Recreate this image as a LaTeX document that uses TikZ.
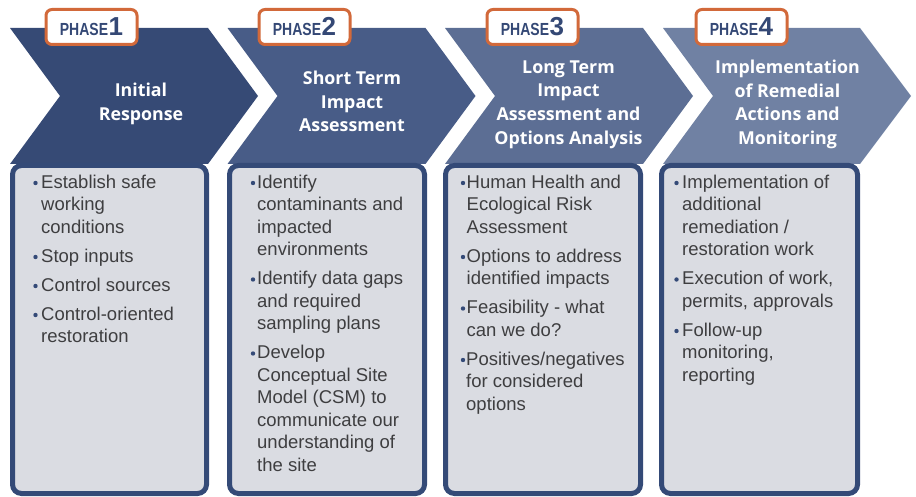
\documentclass[tikz,border=0pt]{standalone}
\usepackage{fontspec}
\usepackage{graphicx}
\setmainfont{Liberation Sans}
\newfontfamily\titlefont{Open Sans}
\definecolor{chevA}{RGB}{54,74,117}
\definecolor{chevB}{RGB}{72,92,135}
\definecolor{chevC}{RGB}{92,110,148}
\definecolor{chevD}{RGB}{112,129,163}
\definecolor{boxborder}{RGB}{52,74,119}
\definecolor{boxfill}{RGB}{218,220,226}
\definecolor{bodytext}{RGB}{62,62,64}
\definecolor{phaseorange}{RGB}{210,105,58}
\definecolor{phasetext}{RGB}{52,72,117}
\newcommand{\phaselabel}[1]{\scalebox{0.8}[1]{\fontsize{17.5}{17}\selectfont\bfseries PHASE}\kern0.5pt{\fontsize{26}{26}\selectfont\bfseries #1}}
\newcommand{\st}{\rule{0pt}{15pt}}
\tikzset{
  infobox/.style={draw=boxborder, fill=boxfill, line width=5pt, rounded corners=9pt},
  phasebox/.style={draw=phaseorange, fill=white, line width=3pt, rounded corners=6pt,
    minimum width=91pt, minimum height=35pt, inner sep=0pt, text=phasetext},
  titletext/.style={text=white, align=center, inner sep=0pt,
    font=\titlefont\bfseries\fontsize{17.8}{23.7}\selectfont},
  itemtext/.style={anchor=north west, align=left, inner sep=0pt, text=bodytext,
    font=\fontsize{18.5}{22.5}\selectfont},
  bulletdot/.style={circle, fill=boxborder, minimum size=4.4pt, inner sep=0pt}
}
\begin{document}
\begin{tikzpicture}[x=1pt,y=-1pt]
\useasboundingbox (0,0) rectangle (916,497);
% chevrons
\fill[chevA] (10,28) -- (208,28) -- (258,96) -- (208,164) -- (10,164) -- (60,96) -- cycle;
\fill[chevB] (227.5,28) -- (425.5,28) -- (475.5,96) -- (425.5,164) -- (227.5,164) -- (277.5,96) -- cycle;
\fill[chevC] (445,28) -- (643,28) -- (693,96) -- (643,164) -- (445,164) -- (495,96) -- cycle;
\fill[chevD] (663,28) -- (860,28) -- (911,96) -- (860,164) -- (663,164) -- (713,96) -- cycle;
% boxes
\draw[infobox] (12.5,165.5) rectangle (206.5,493.5);
\draw[infobox] (229.5,165.5) rectangle (424.5,493.5);
\draw[infobox] (445.5,165.5) rectangle (640.5,493.5);
\draw[infobox] (661.5,165.5) rectangle (857.5,493.5);
% phase labels
\node[phasebox] (p1) at (91.5,27) {\phaselabel{1}};
\node[phasebox] (p2) at (304.5,27) {\phaselabel{2}};
\node[phasebox] (p3) at (532.5,27) {\phaselabel{3}};
\node[phasebox] (p4) at (741.5,27) {\phaselabel{4}};
% titles
\node[titletext] (t1) at (141,104) {Initial\\Response};
\node[titletext] (t2) at (352,101.5) {Short Term\\Impact\\Assessment};
\node[titletext] (t3) at (568.5,104.5) {Long Term\\Impact\\Assessment and\\Options Analysis};
\node[titletext] (t4) at (787.5,104.5) {Implementation\\of Remedial\\Actions and\\Monitoring};
% box 1 items
\node[bulletdot] (b1a) at (35.5,183) {};
\node[itemtext] (i1a) at (41,173) {\st Establish safe\\working\\conditions};
\node[bulletdot] (b1b) at (35.5,257) {};
\node[itemtext] (i1b) at (41,247) {\st Stop inputs};
\node[bulletdot] (b1c) at (35.5,286) {};
\node[itemtext] (i1c) at (41,276) {\st Control sources};
\node[bulletdot] (b1d) at (35.5,315) {};
\node[itemtext] (i1d) at (41,305) {\st Control-oriented\\restoration};
% box 2 items
\node[bulletdot] (b2a) at (253,183) {};
\node[itemtext] (i2a) at (257,173) {\st Identify\\contaminants and\\impacted\\environments};
\node[bulletdot] (b2b) at (253,279.5) {};
\node[itemtext] (i2b) at (257,269.5) {\st Identify data gaps\\and required\\sampling plans};
\node[bulletdot] (b2c) at (253,353.5) {};
\node[itemtext] (i2c) at (257,343.5) {\st Develop\\Conceptual Site\\Model (CSM) to\\communicate our\\understanding of\\the site};
% box 3 items
\node[bulletdot] (b3a) at (463,183) {};
\node[itemtext] (i3a) at (466.5,173) {\st Human Health and\\Ecological Risk\\Assessment};
\node[bulletdot] (b3b) at (463,257) {};
\node[itemtext] (i3b) at (466.5,247) {\st Options to address\\identified impacts};
\node[bulletdot] (b3c) at (463,308.5) {};
\node[itemtext] (i3c) at (466.5,298.5) {\st Feasibility - what\\can we do?};
\node[bulletdot] (b3d) at (463,360) {};
\node[itemtext] (i3d) at (466,350) {\st Positives/negatives\\for considered\\options};
% box 4 items
\node[bulletdot] (b4a) at (676.5,183) {};
\node[itemtext] (i4a) at (682,173) {\st Implementation of\\additional\\remediation /\\restoration work};
\node[bulletdot] (b4b) at (676.5,279.5) {};
\node[itemtext] (i4b) at (682,269.5) {\st Execution of work,\\permits, approvals};
\node[bulletdot] (b4c) at (676.5,331) {};
\node[itemtext] (i4c) at (682,321) {\st Follow-up\\monitoring,\\reporting};
\end{tikzpicture}
\end{document}
